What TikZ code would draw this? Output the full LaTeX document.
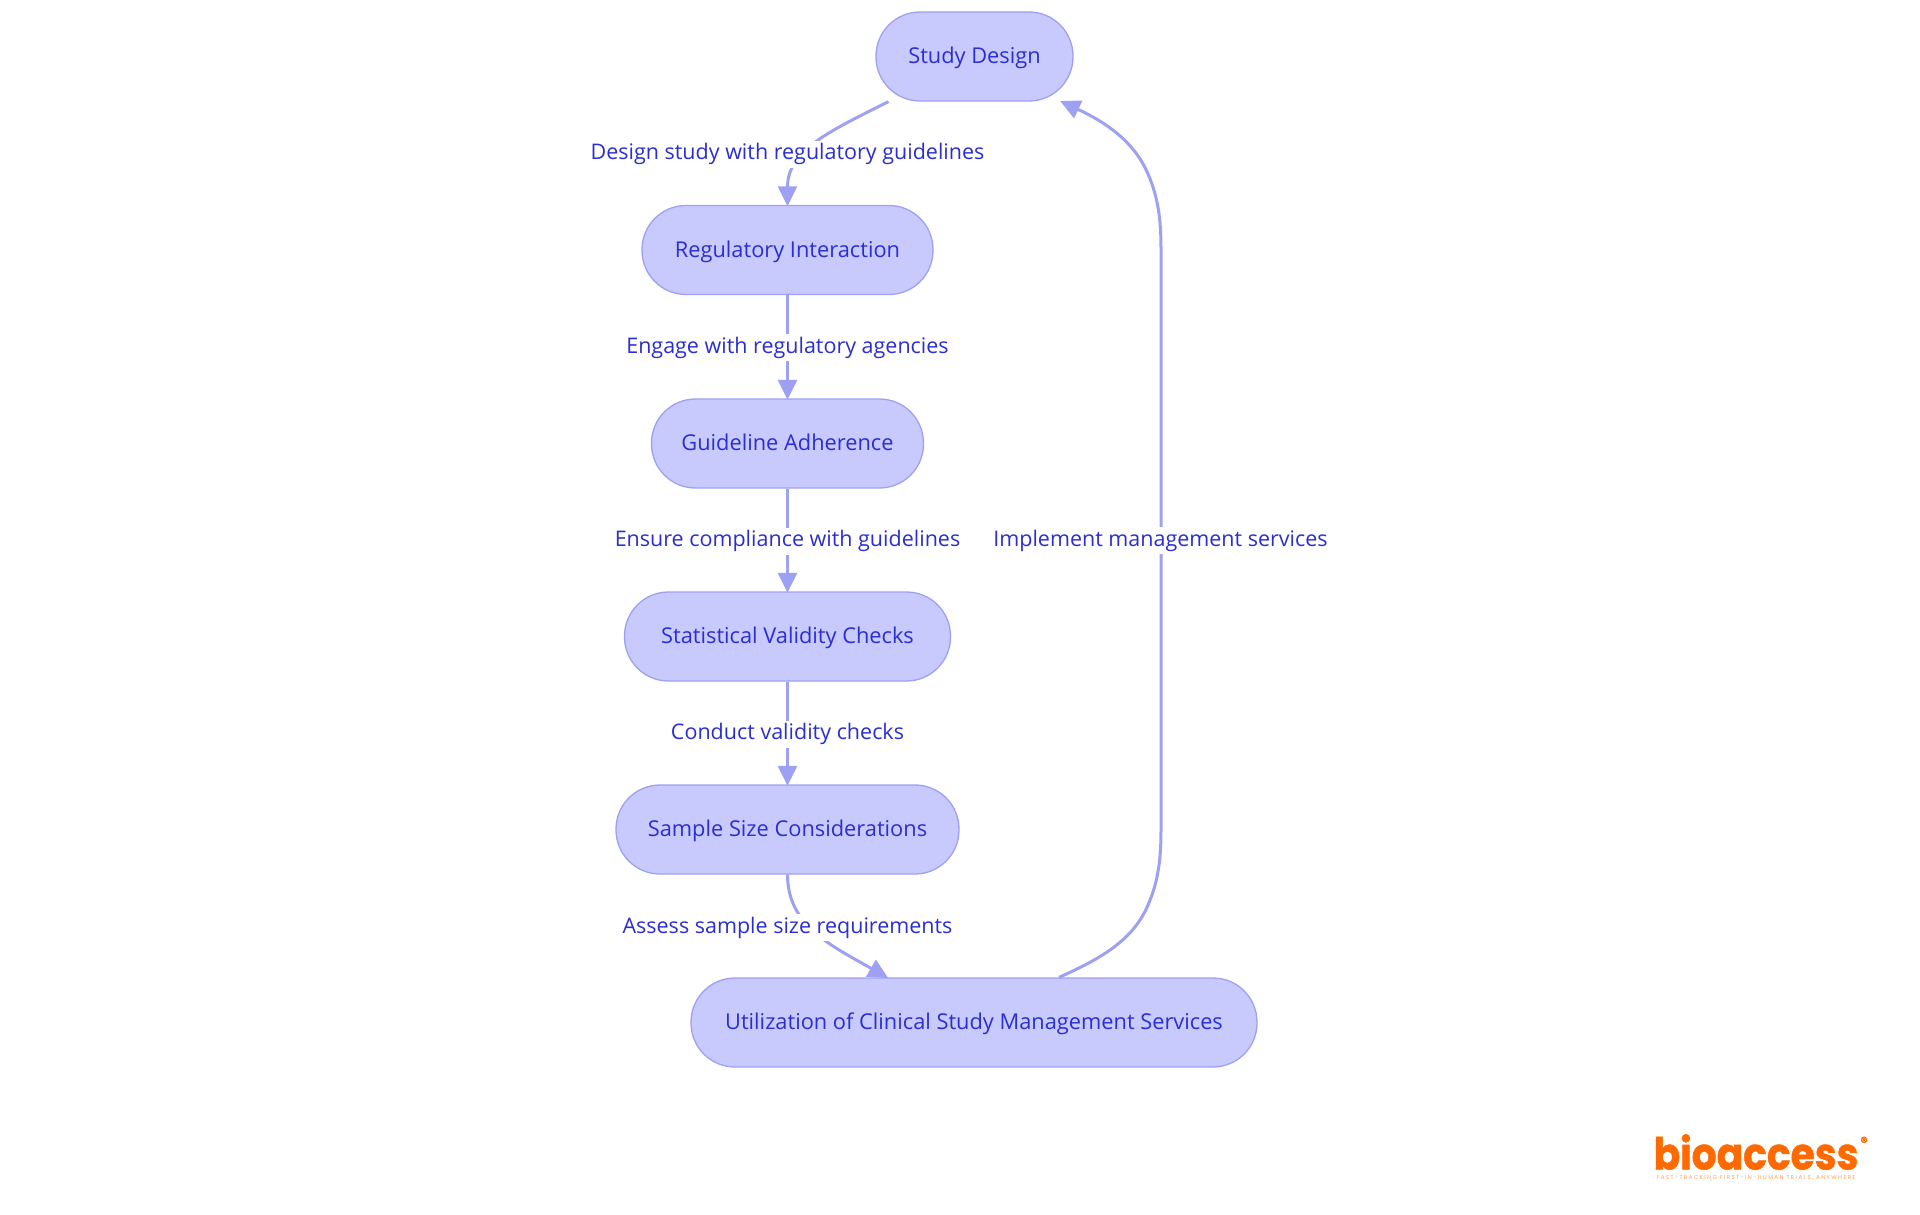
\documentclass[tikz,border=0pt]{standalone}
\usepackage{fontspec}
\setmainfont{Open Sans}
\newfontfamily\logofont[FakeBold=1.2]{Poppins}
\newfontfamily\tagfont[LetterSpace=25]{Poppins}
\usetikzlibrary{arrows.meta}
\definecolor{nodefill}{HTML}{C8C9FD}
\definecolor{edgecol}{HTML}{9EA1F3}
\definecolor{textcol}{HTML}{2B2ED1}
\definecolor{logocol}{HTML}{FF6A00}
\tikzset{
  box/.style={draw=edgecol,fill=nodefill,line width=1.3pt,rounded corners=44pt,minimum height=89pt,inner sep=0pt,text=textcol,font=\fontsize{21.8}{26}\selectfont,align=center},
  conn/.style={draw=edgecol,line width=3pt,shorten >=-1.5pt,-{Triangle[length=20pt,width=19pt]}},
  conntxt/.style={fill=white,inner xsep=1pt,inner ysep=2pt,text=textcol,text height=17pt,text depth=6pt,font=\fontsize{21.5}{26}\selectfont}
}
\begin{document}
\begin{tikzpicture}[x=1pt,y=-1pt]
\useasboundingbox (0,0) rectangle (1920,1215);
\node[box,minimum width=197pt] (sd) at (974.5,56.5) {\rule{0pt}{14pt}\smash{Study Design}};
\node[box,minimum width=291pt] (ri) at (787.5,250) {\rule{0pt}{14pt}\smash{Regulatory Interaction}};
\node[box,minimum width=272pt] (ga) at (787.5,443.5) {\rule{0pt}{14pt}\smash{Guideline Adherence}};
\node[box,minimum width=326pt] (sv) at (787.5,636.5) {\rule{0pt}{14pt}\smash{Statistical Validity Checks}};
\node[box,minimum width=343pt] (ss) at (787.5,829.5) {\rule{0pt}{14pt}\smash{Sample Size Considerations}};
\node[box,minimum width=566pt] (um) at (974,1022.5) {\rule{0pt}{14pt}\smash{Utilization of Clinical Study Management Services}};
\coordinate (sdout) at ([xshift=-86pt]sd.south);
\coordinate (sdin) at ([xshift=87pt]sd.south);
\coordinate (umin) at ([xshift=-87pt]um.north);
\coordinate (umout) at ([xshift=85pt]um.north);
\draw[conn] (sdout) .. controls (830,131) and (787.5,150) .. (ri.north);
\draw[conn] (ri.south) -- (ga.north);
\draw[conn] (ga.south) -- (sv.north);
\draw[conn] (sv.south) -- (ss.north);
\draw[conn] (ss.south) .. controls (787.5,925) and (830,945) .. (umin);
\draw[conn] (umout) .. controls (1105,957) and (1134,938) .. (1148,905) .. controls (1158,882) and (1161,860) .. (1161,830) -- (1161,249) .. controls (1161,219) and (1158,197) .. (1148,174) .. controls (1134,141) and (1105,122) .. (sdin);
\node[conntxt] (l1) at (787.5,154) {Design study with regulatory guidelines};
\node[conntxt] (l2) at (787.5,347.5) {Engage with regulatory agencies};
\node[conntxt] (l3) at (787.5,541) {Ensure compliance with guidelines};
\node[conntxt] (l4) at (787.5,734) {Conduct validity checks};
\node[conntxt] (l5) at (787.5,927.5) {Assess sample size requirements};
\node[conntxt] (l6) at (1160.5,540.5) {Implement management services};
\node[inner sep=0pt,text=logocol,font=\logofont\bfseries\fontsize{44}{48}\selectfont] (logo) at (1756,1152) {\scalebox{0.89}[1]{bioaccess}};
\node[inner sep=0pt,text=logocol,font=\logofont\fontsize{15}{15}\selectfont] (reg) at (1864,1142) {®};
\node[inner sep=0pt,text=logocol!65,font=\tagfont\fontsize{5.6}{7}\selectfont] (tag) at (1756,1178) {FAST-TRACKING FIRST-IN-HUMAN TRIALS, ANYWHERE};
\end{tikzpicture}
\end{document}
